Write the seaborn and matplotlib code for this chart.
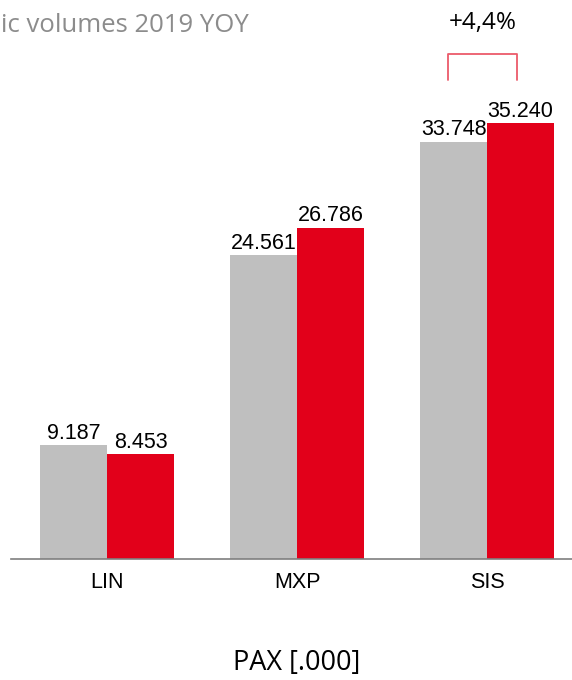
import matplotlib.pyplot as plt
import matplotlib.transforms as mtransforms
import pandas as pd
import seaborn as sns

sns.set_theme(style="white")
plt.rcParams["font.family"] = ["Liberation Sans", "DejaVu Sans"]
plt.rcParams["text.color"] = "black"

airports = ["LIN", "MXP", "SIS"]
years = ["2018", "2019"]
pax_2018 = [9187, 24561, 33748]
pax_2019 = [8453, 26786, 35240]
growth_label = "+4,4%"

GREY = "#bfbfbf"
RED = "#e2001a"


def fmt_pax(v):
    # 9187 -> "9.187"
    return f"{v / 1000:.3f}"


df = pd.DataFrame({
    "airport": airports * 2,
    "year": [years[0]] * 3 + [years[1]] * 3,
    "pax": pax_2018 + pax_2019,
})

fig = plt.figure(figsize=(5.72, 6.8), dpi=100)
ax = fig.add_axes([11 / 572, 121 / 680, 561 / 572, 559 / 680])

sns.barplot(data=df, x="airport", y="pax", hue="year",
            palette=[GREY, RED], width=0.705, saturation=1,
            linewidth=0, legend=False, ax=ax)

for cont, vals in zip(ax.containers, [pax_2018, pax_2019]):
    ax.bar_label(cont, labels=[fmt_pax(v) for v in vals], padding=1,
                 fontsize=15.5, color="black")

ax.set_xlim(-0.505, 2.447)
ax.set_ylim(0, 45200)
ax.set_xlabel("")
ax.set_ylabel("")
ax.set_yticks([])
sns.despine(ax=ax, left=True, top=True, right=True)
ax.spines["bottom"].set_color("#7f7f7f")
ax.spines["bottom"].set_linewidth(1.2)
ax.tick_params(axis="x", length=0, pad=9, labelsize=15.5, labelcolor="black")

# growth bracket over SIS
top = pax_2019[2] * 1.1585
low = pax_2019[2] * 1.099
ax.plot([2 - 0.205, 2 - 0.205, 2 + 0.158, 2 + 0.158], [low, top, top, low],
        color="#ec5a6a", lw=1.3, clip_on=False)

blend = mtransforms.blended_transform_factory(ax.transData, fig.transFigure)
ax.text(2 - 0.025, 1 - 29 / 680, growth_label, transform=blend,
        ha="center", va="baseline", fontsize=17.5, family="Open Sans",
        color="black")

fig.text(0.001, 1 - 32 / 680, "ic volumes 2019 YOY", ha="left", va="baseline",
         fontsize=18.5, color="#8c8c8c", family="Open Sans")

ax.text(1, 17 / 680, "PAX [.000]", transform=blend, ha="center", va="center",
        fontsize=19.5, family="Open Sans", color="black")

fig.savefig("out.png", dpi=100)
